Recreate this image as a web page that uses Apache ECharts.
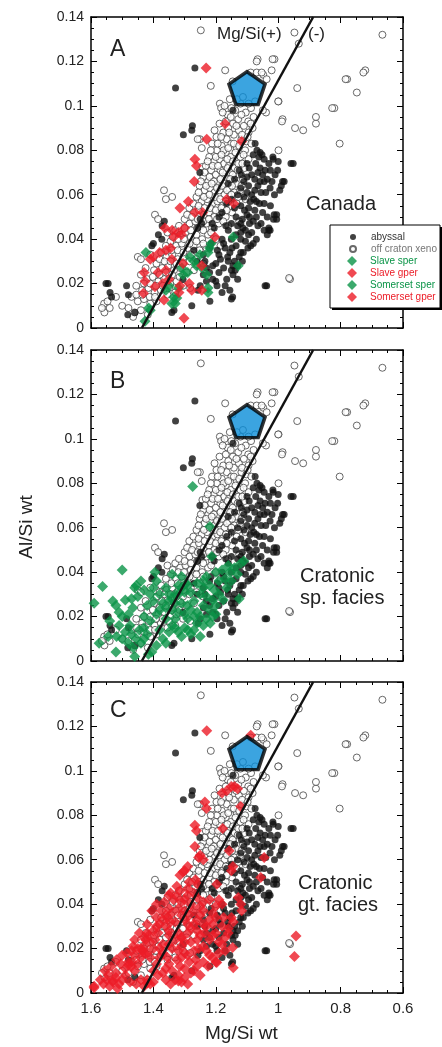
<!DOCTYPE html>
<html>
<head>
<meta charset="utf-8">
<script src="https://cdn.jsdelivr.net/npm/echarts/dist/echarts.min.js"></script>
<style>
  html, body { margin: 0; padding: 0; background: #fff; }
  #main { width: 442px; height: 1047px; }
</style>
</head>
<body>
<div id="main"></div>
<script>
// ---- data (Mg/Si wt, Al/Si wt) ----
var xTicks = [1.6, 1.4, 1.2, 1, 0.8, 0.6];
var yTicks = [0, 0.02, 0.04, 0.06, 0.08, 0.1, 0.12, 0.14];

// off craton xenoliths (open circles), same in every panel
var offCraton = [
  [1.248,0.134],[1.170,0.116],[1.216,0.109],[1.146,0.111],[0.948,0.133],[0.934,0.128],[0.666,0.132],
  [1.066,0.121],[1.012,0.121],[1.088,0.115],[1.069,0.115],[1.048,0.114],[1.021,0.116],[1.037,0.112],
  [0.779,0.112],[0.721,0.116],[0.748,0.106],[0.939,0.108],[0.999,0.102],[1.039,0.097],[0.986,0.094],
  [0.946,0.090],[0.920,0.089],[0.879,0.092],[0.879,0.095],[0.820,0.099],[0.803,0.083],[0.999,0.080],
  [0.962,0.022],[1.251,0.085],[1.243,0.0725],[1.366,0.062],[1.340,0.059],[1.360,0.058],[1.395,0.051],
  [1.385,0.049],[1.187,0.101],[1.183,0.099],[1.258,0.085],[1.245,0.081],[1.45,0.032],[1.44,0.031],
  [1.558,0.011],[1.547,0.012],[1.557,0.007],[1.540,0.009],[1.565,0.009],[1.465,0.005],[1.52,0.014],[1.50,0.010],
  [1.172,0.100],[1.155,0.103],[1.138,0.098],[1.121,0.101],[1.104,0.097],[1.087,0.099],[1.074,0.102],
  [1.162,0.096],[1.128,0.094],[1.096,0.093],[1.079,0.095],[1.145,0.092],
  [1.188,0.092],[1.176,0.088],[1.160,0.090],[1.142,0.087],[1.126,0.089],[1.110,0.091],[1.095,0.088],
  [1.082,0.090],[1.198,0.086],[1.165,0.085],[1.150,0.083],[1.118,0.085],[1.102,0.084],[1.133,0.081],
  [1.212,0.083],[1.196,0.080],[1.181,0.082],[1.168,0.079],[1.152,0.077],[1.137,0.079],[1.121,0.077],
  [1.106,0.080],[1.221,0.077],[1.205,0.075],[1.188,0.076],[1.173,0.074],[1.095,0.076],[1.158,0.073],
  [1.232,0.073],[1.215,0.071],[1.200,0.069],[1.185,0.071],[1.170,0.068],[1.155,0.070],[1.139,0.072],
  [1.124,0.069],[1.108,0.072],[1.240,0.068],[1.224,0.066],[1.192,0.065],[1.146,0.066],[1.113,0.067],
  [1.252,0.064],[1.236,0.062],[1.219,0.063],[1.204,0.061],[1.188,0.062],[1.172,0.060],[1.157,0.063],
  [1.140,0.061],[1.122,0.062],[1.262,0.059],[1.245,0.057],[1.228,0.058],[1.211,0.056],[1.195,0.057],
  [1.178,0.055],[1.160,0.057],[1.133,0.056],[1.105,0.058],
  [1.285,0.054],[1.270,0.052],[1.254,0.053],[1.238,0.051],[1.222,0.052],[1.205,0.050],[1.188,0.052],
  [1.168,0.050],[1.148,0.052],[1.300,0.049],[1.284,0.047],[1.266,0.048],[1.248,0.046],[1.230,0.047],
  [1.212,0.045],[1.190,0.047],[1.160,0.046],[1.125,0.048],
  [1.330,0.044],[1.314,0.042],[1.297,0.043],[1.280,0.041],[1.262,0.042],[1.244,0.040],[1.225,0.042],
  [1.200,0.040],[1.345,0.039],[1.327,0.037],[1.309,0.038],[1.290,0.036],[1.271,0.037],[1.252,0.035],
  [1.230,0.036],[1.185,0.037],[1.355,0.043],
  [1.375,0.034],[1.358,0.032],[1.340,0.033],[1.322,0.031],[1.303,0.032],[1.284,0.030],[1.262,0.031],
  [1.240,0.029],[1.390,0.029],[1.372,0.027],[1.353,0.028],[1.334,0.026],[1.314,0.027],[1.294,0.025],
  [1.270,0.026],[1.410,0.033],[1.425,0.027],
  [1.440,0.024],[1.420,0.022],[1.402,0.023],[1.384,0.021],[1.365,0.022],[1.346,0.020],[1.326,0.021],
  [1.305,0.019],[1.455,0.019],[1.436,0.017],[1.416,0.018],[1.396,0.016],[1.376,0.017],[1.355,0.015],
  [1.330,0.016],[1.282,0.018],
  [1.470,0.014],[1.450,0.012],[1.430,0.013],[1.410,0.011],[1.390,0.012],[1.480,0.009],[1.460,0.007],
  [1.440,0.008],[1.418,0.006],[1.069,0.120],[1.018,0.121],[1.053,0.115],[1.000,0.102],[1.049,0.098],
  [0.827,0.099],[0.784,0.112],[0.727,0.115],[0.988,0.093],[0.965,0.0225],
  [1.178,0.097],[1.150,0.099],[1.132,0.103],[1.113,0.104],[1.095,0.101],[1.168,0.093],[1.152,0.095],
  [1.118,0.096],[1.088,0.092],[1.204,0.089],[1.183,0.086],[1.157,0.088],[1.134,0.091],[1.116,0.087],
  [1.098,0.086],[1.086,0.083],[1.194,0.083],[1.175,0.080],[1.160,0.081],[1.142,0.083],[1.125,0.082],
  [1.111,0.078],[1.216,0.080],[1.200,0.077],[1.182,0.078],[1.163,0.076],[1.145,0.075],[1.128,0.074],
  [1.115,0.074],[1.226,0.075],[1.210,0.073],[1.193,0.073],[1.178,0.070],[1.162,0.072],[1.146,0.069],
  [1.130,0.071],[1.236,0.070],[1.220,0.068],[1.206,0.066],[1.185,0.067],[1.170,0.065],[1.154,0.067],
  [1.135,0.065],[1.118,0.064],[1.248,0.066],[1.231,0.064],[1.213,0.065],[1.196,0.063],[1.180,0.064],
  [1.164,0.062],[1.148,0.064],[1.128,0.059],[1.255,0.061],[1.238,0.059],[1.220,0.060],[1.202,0.059],
  [1.186,0.058],[1.168,0.057],[1.150,0.060],[1.272,0.056],[1.255,0.055],[1.236,0.054],[1.218,0.054],
  [1.200,0.053],[1.182,0.054],[1.165,0.053],[1.292,0.051],[1.276,0.050],[1.258,0.049],[1.240,0.048],
  [1.222,0.049],[1.196,0.049],[1.176,0.048],[1.318,0.046],[1.300,0.045],[1.280,0.044],[1.260,0.045],
  [1.240,0.044],[1.215,0.043],[1.338,0.041],[1.320,0.040],[1.302,0.040],[1.284,0.038],[1.262,0.039],
  [1.240,0.038],[1.360,0.037],[1.342,0.035],[1.322,0.035],[1.304,0.034],[1.280,0.033],[1.380,0.031],
  [1.364,0.030],[1.345,0.030],[1.326,0.029],[1.305,0.029],[1.398,0.026],[1.380,0.024],[1.360,0.025],
  [1.340,0.024],[1.316,0.023],[1.430,0.020],[1.410,0.020],[1.392,0.019],[1.370,0.019],[1.350,0.018],
  [1.455,0.015],[1.435,0.015],[1.412,0.014],[1.395,0.014]
];

// abyssal peridotites (black dots), same in every panel
var abyssal = [
  [1.267,0.117],[1.329,0.108],[1.304,0.087],[1.277,0.089],[1.275,0.091],[1.145,0.098],[1.251,0.070],
  [1.384,0.042],[1.372,0.046],[1.365,0.048],[1.40,0.038],[1.373,0.040],[1.405,0.037],[1.486,0.019],
  [1.482,0.006],[1.341,0.007],[1.334,0.008],[1.552,0.020],[1.545,0.020],[1.539,0.016],[1.534,0.014],
  [1.48,0.015],[1.459,0.007],[1.305,0.022],[1.257,0.017],[1.25,0.019],[1.219,0.012],[1.277,0.010],
  [1.037,0.019],[1.146,0.014],[1.150,0.013],[0.952,0.074],[0.959,0.074],[0.981,0.066],[0.986,0.066],
  [1.005,0.051],[1.005,0.049],[1.030,0.045],[1.026,0.044],[1.088,0.037],[1.112,0.034],[1.042,0.019],
  [1.074,0.083],[1.058,0.079],[1.052,0.078],[1.062,0.077],[1.080,0.078],[1.017,0.077],[1.000,0.075],
  [1.016,0.076],[1.10,0.074],[1.093,0.072],[1.125,0.071],[1.118,0.069],[1.05,0.069],[1.042,0.071],
  [1.035,0.067],[1.045,0.066],[1.010,0.069],[1.002,0.071],[0.99,0.064],[0.995,0.062],[1.04,0.061],
  [1.026,0.063],[1.085,0.060],[1.100,0.061],[1.078,0.058],[1.09,0.057],[1.10,0.051],[1.108,0.053],
  [1.092,0.050],[1.115,0.049],[1.113,0.045],[1.12,0.047],[1.105,0.044],[1.013,0.051],[1.015,0.049],
  [1.03,0.044],[1.035,0.042],[1.168,0.046],[1.16,0.044],[1.212,0.047],[1.205,0.045],[1.25,0.049],
  [1.245,0.047],[1.258,0.045],[1.155,0.034],[1.148,0.036],[1.162,0.032],[1.19,0.033],[1.185,0.031],
  [1.145,0.024],[1.138,0.026],[1.13,0.022],[1.20,0.021],[1.196,0.019],[1.17,0.019],[1.12,0.034],
  [1.125,0.032],[1.097,0.036],[1.145,0.028],[1.14,0.030],[1.07,0.050],[1.08,0.048],[1.13,0.046],
  [1.12,0.040],[1.135,0.042],[1.18,0.040],[1.175,0.038],[1.22,0.036],[1.215,0.038],[1.235,0.030],
  [1.23,0.027],[1.21,0.028],[1.26,0.030],[1.24,0.024],[1.165,0.056],[1.15,0.058],[1.14,0.054],
  [1.13,0.060],[1.12,0.063],[1.16,0.065],[1.14,0.067],[1.11,0.066],[1.18,0.052],[1.19,0.050],
  [1.065,0.064],[1.06,0.056],[1.075,0.067],[1.22,0.025],[1.21,0.022],[1.155,0.017],[1.095,0.042],[1.065,0.046],
  [1.068,0.080],[1.045,0.076],[1.072,0.074],[1.030,0.074],[1.058,0.072],[1.085,0.069],[1.065,0.070],
  [1.025,0.071],[1.100,0.068],[1.058,0.066],[1.020,0.066],[1.095,0.064],[1.075,0.062],[1.055,0.061],
  [1.012,0.060],[1.110,0.059],[1.070,0.057],[1.045,0.056],[1.025,0.055],[1.120,0.055],[1.095,0.054],
  [1.075,0.053],[1.050,0.052],[1.035,0.050],[1.135,0.050],[1.092,0.047],[1.055,0.047],[1.045,0.044],
  [1.150,0.047],[1.120,0.043],[1.085,0.043],[1.070,0.040],[1.150,0.040],[1.105,0.039],[1.080,0.038],
  [1.170,0.036],[1.135,0.037],[1.115,0.030],[1.195,0.035],[1.160,0.030],[1.130,0.028],[1.200,0.029],
  [1.175,0.027],[1.150,0.026],[1.190,0.025],[1.165,0.022],[1.230,0.021],[1.180,0.016],[1.240,0.033],[1.270,0.035]
];

// panel A: Canada
var slaveSper = [
  [1.424,0.034],[1.427,0.003],[1.41,0.008],[1.415,0.009],[1.325,0.0135],[1.341,0.011],[1.27,0.030],
  [1.262,0.028],[1.305,0.024],[1.29,0.025],[1.229,0.024],[1.22,0.036],[1.215,0.038]
];
var slaveGper = [
  [1.170,0.092],[1.229,0.085],[1.267,0.076],[1.262,0.073],[1.269,0.066],[1.288,0.057],[1.315,0.054],
  [1.267,0.052],[1.242,0.052],[1.117,0.084],[1.165,0.058],[1.142,0.056],[1.203,0.041],[1.231,0.117]
];
var somersetSper = [
  [1.251,0.033],[1.225,0.016],[1.144,0.041],[1.128,0.028],[1.225,0.034],[1.244,0.027],[1.283,0.032],
  [1.309,0.027],[1.32,0.018],[1.335,0.014],[1.33,0.011],[1.225,0.018],[1.36,0.017],[1.35,0.019]
];
var somersetGper = [
  [1.30,0.045],[1.32,0.043],[1.34,0.044],[1.31,0.042],[1.335,0.041],[1.363,0.045],[1.36,0.035],
  [1.345,0.036],[1.38,0.034],[1.40,0.032],[1.41,0.031],[1.43,0.025],[1.427,0.021],[1.36,0.026],
  [1.35,0.022],[1.37,0.020],[1.385,0.025],[1.341,0.031],[1.315,0.019],[1.305,0.029],[1.245,0.028],
  [1.432,0.0156],[1.395,0.0186],[1.366,0.0126],[1.318,0.016],[1.285,0.020],[1.277,0.017],[1.245,0.017],[1.302,0.0044]
];

// panel B: cratonic spinel facies
var cratonicSp = [
  [1.590,0.026],[1.563,0.0335],[1.50,0.041],[1.574,0.008],[1.545,0.011],[1.518,0.011],[1.52,0.025],
  [1.51,0.022],[1.53,0.027],[1.50,0.020],[1.49,0.0275],[1.466,0.024],[1.455,0.034],[1.46,0.033],
  [1.44,0.036],[1.50,0.010],[1.49,0.013],[1.48,0.008],[1.47,0.012],[1.465,0.006],[1.455,0.010],
  [1.445,0.014],[1.475,0.016],[1.43,0.015],[1.42,0.012],[1.44,0.008],[1.40,0.033],[1.39,0.036],
  [1.41,0.030],[1.38,0.023],[1.37,0.026],[1.39,0.021],[1.40,0.027],[1.36,0.019],[1.35,0.013],
  [1.37,0.010],[1.38,0.014],[1.39,0.007],[1.405,0.004],[1.416,0.003],[1.34,0.016],[1.295,0.035],
  [1.31,0.038],[1.32,0.034],[1.33,0.030],[1.34,0.028],[1.30,0.031],[1.29,0.025],[1.28,0.023],
  [1.30,0.021],[1.27,0.027],[1.32,0.022],[1.33,0.019],[1.34,0.023],[1.31,0.026],[1.27,0.014],
  [1.26,0.017],[1.28,0.012],[1.30,0.015],[1.25,0.011],[1.32,0.013],[1.26,0.022],[1.23,0.038],
  [1.24,0.036],[1.22,0.034],[1.25,0.030],[1.23,0.029],[1.24,0.025],[1.21,0.0275],[1.22,0.023],
  [1.20,0.021],[1.218,0.017],[1.23,0.019],[1.219,0.0605],[1.213,0.047],[1.2,0.040],[1.18,0.041],
  [1.16,0.043],[1.14,0.042],[1.12,0.044],[1.11,0.045],[1.165,0.033],[1.125,0.028],[1.176,0.0275],
  [1.274,0.0785],[1.155,0.040],[1.19,0.036],[1.205,0.032],
  [1.54,0.018],[1.51,0.016],[1.48,0.021],[1.47,0.028],[1.45,0.029],[1.43,0.032],[1.43,0.020],
  [1.42,0.025],[1.41,0.018],[1.46,0.002],[1.52,0.004],[1.43,0.010],[1.38,0.030],[1.36,0.033],
  [1.35,0.030],[1.36,0.024],[1.35,0.027],[1.33,0.026],[1.32,0.030],[1.31,0.033],[1.29,0.034],
  [1.28,0.031],[1.27,0.020],[1.29,0.019],[1.29,0.014],[1.31,0.011],[1.33,0.015],[1.24,0.033],
  [1.26,0.035],[1.25,0.020],[1.24,0.016],[1.21,0.020],[1.20,0.025],[1.19,0.030],[1.17,0.037],
  [1.15,0.036],[1.13,0.039],[1.36,0.008],[1.395,0.040],[1.34,0.039]
];

// panel C: cratonic garnet facies
var cratonicGt = [
  [1.229,0.118],[1.088,0.116],[1.13,0.092],[1.15,0.093],[1.165,0.091],[1.18,0.090],[1.14,0.093],
  [1.12,0.084],[1.23,0.083],[1.235,0.086],[1.267,0.0755],[1.262,0.073],[1.178,0.074],[1.267,0.066],
  [1.25,0.062],[1.24,0.060],[1.30,0.055],[1.29,0.057],[1.265,0.051],[1.258,0.049],[1.197,0.049],
  [1.157,0.064],[1.145,0.057],[1.15,0.055],[1.045,0.061],[1.056,0.052],[1.128,0.043],[1.117,0.037],
  [1.12,0.040],[1.144,0.032],[1.15,0.034],[1.146,0.0205],[1.144,0.0114],[1.197,0.0137],[0.943,0.0257],
  [0.948,0.0164],[1.255,0.061],[1.305,0.0545],[1.315,0.053],
  [1.59,0.0024],[1.59,0.003],[1.55,0.006],[1.56,0.004],[1.545,0.008],[1.518,0.015],[1.50,0.006],
  [1.51,0.004],[1.49,0.008],[1.52,0.009],[1.53,0.005],[1.47,0.012],[1.45,0.013],[1.46,0.010],
  [1.48,0.014],[1.44,0.016],[1.425,0.024],[1.43,0.021],[1.415,0.026],[1.42,0.018],[1.435,0.019],
  [1.45,0.020],[1.37,0.033],[1.36,0.035],[1.38,0.031],[1.39,0.034],[1.375,0.037],[1.325,0.0435],
  [1.335,0.042],[1.345,0.045],[1.315,0.046],[1.38,0.016],[1.39,0.013],[1.37,0.018],[1.41,0.004],
  [1.42,0.006],[1.40,0.005],[1.32,0.008],[1.33,0.006],[1.31,0.005],[1.31,0.025],[1.30,0.023],
  [1.32,0.027],[1.25,0.035],[1.26,0.033],[1.24,0.037],[1.23,0.019],[1.22,0.017],[1.24,0.021],
  [1.24,0.041],[1.22,0.042],[1.26,0.043],[1.28,0.040],[1.18,0.040],[1.19,0.042],[1.20,0.039],
  [1.39,0.030],[1.40,0.028],[1.30,0.033],[1.29,0.031],[1.31,0.035],[1.33,0.032],[1.22,0.033],
  [1.21,0.031],[1.23,0.030],[1.20,0.034],[1.16,0.027],[1.17,0.025],[1.16,0.029],[1.42,0.027],
  [1.43,0.025],[1.41,0.023],[1.31,0.025],[1.33,0.024],[1.29,0.027],[1.28,0.023],[1.35,0.026],
  [1.22,0.024],[1.21,0.026],[1.19,0.023],[1.20,0.027],[1.43,0.018],[1.44,0.020],[1.46,0.017],
  [1.30,0.018],[1.31,0.016],[1.32,0.019],[1.29,0.017],[1.27,0.019],[1.21,0.016],[1.20,0.014],
  [1.19,0.018],[1.48,0.0126],[1.49,0.011],[1.47,0.014],[1.36,0.011],[1.37,0.009],[1.35,0.013],
  [1.34,0.010],[1.27,0.010],[1.26,0.012],[1.28,0.009],[1.25,0.008],[1.53,0.0055],[1.52,0.007],
  [1.54,0.003],[1.42,0.0045],[1.43,0.003],[1.44,0.006],[1.32,0.0054],[1.30,0.007],[1.29,0.004],
  [1.35,0.038],[1.34,0.036],[1.27,0.045],[1.29,0.047],[1.30,0.042],[1.25,0.039],[1.27,0.037],
  [1.26,0.028],[1.25,0.026],[1.24,0.014],[1.36,0.030],[1.35,0.028],[1.37,0.022],[1.38,0.020],[1.34,0.020],
  [1.555,0.010],[1.535,0.012],[1.505,0.013],[1.485,0.018],[1.465,0.021],[1.475,0.005],[1.455,0.004],
  [1.46,0.024],[1.445,0.027],[1.41,0.016],[1.40,0.020],[1.395,0.024],[1.385,0.027],[1.40,0.010],
  [1.385,0.008],[1.36,0.006],[1.345,0.004],[1.355,0.016],[1.35,0.022],[1.345,0.032],[1.355,0.034],
  [1.365,0.041],[1.39,0.040],[1.32,0.038],[1.30,0.037],[1.285,0.035],[1.28,0.029],[1.27,0.031],
  [1.26,0.024],[1.255,0.020],[1.265,0.015],[1.285,0.014],[1.30,0.011],[1.315,0.012],[1.31,0.021],
  [1.325,0.015],[1.24,0.031],[1.235,0.027],[1.21,0.036],[1.18,0.030],[1.175,0.034],[1.18,0.022],
  [1.17,0.019],[1.225,0.012],[1.31,0.041],[1.29,0.044],[1.285,0.050],[1.325,0.048],[1.35,0.044],
  [1.405,0.037],[1.42,0.031],[1.50,0.017],[1.47,0.019],[1.515,0.002],[1.57,0.006]
];

// Mg/Si(+) / (-) divide line and primitive mantle
var lineX = [1.437, 0.888];
var lineY = [0, 0.14];
var pmX = [1.10];
var pmY = [0.108];

// ---- chart ----
var FONT = '"Liberation Sans", Arial, Helvetica, sans-serif';
var GREEN = '#0a9447';
var RED = '#ec1c27';
var gridTops = [17, 350, 682];
var PENTAGON = 'path://M50,0 L97.6,34.5 L79.4,90.5 L20.6,90.5 L2.4,34.5 Z';
var DIAMOND = 'path://M5,0 L10,5 L5,10 L0,5 Z';

var grids = [], xAxes = [], yAxes = [], series = [];

function axisCommon() {
  return {
    type: 'value',
    axisLine: { onZero: false, lineStyle: { color: '#000', width: 1.5 } },
    axisTick: { inside: true, length: 6, lineStyle: { color: '#000', width: 1 } },
    minorTick: { show: true, splitNumber: 4, length: 3, lineStyle: { color: '#000', width: 1 } },
    splitLine: { show: false },
    minorSplitLine: { show: false }
  };
}

gridTops.forEach(function (top, i) {
  grids.push({ left: 91, top: top, width: 312, height: 311 });
  ['bottom', 'top'].forEach(function (pos) {
    var ax = axisCommon();
    ax.gridIndex = i;
    ax.position = pos;
    ax.min = 0.6; ax.max = 1.6; ax.interval = 0.2;
    ax.inverse = true;
    ax.axisLabel = {
      show: pos === 'bottom' && i === 2,
      fontSize: 15, color: '#222', fontFamily: FONT, margin: 8,
      formatter: function (v) { return String(+v.toFixed(1)); }
    };
    xAxes.push(ax);
  });
  ['left', 'right'].forEach(function (pos) {
    var ax = axisCommon();
    ax.gridIndex = i;
    ax.position = pos;
    ax.min = 0; ax.max = 0.14; ax.interval = 0.02;
    ax.axisLabel = {
      show: pos === 'left',
      fontSize: 14, color: '#222', fontFamily: FONT, margin: 7,
      formatter: function (v) { return String(+v.toFixed(2)); }
    };
    yAxes.push(ax);
  });
});

function scatter(name, data, i, opts) {
  return Object.assign({
    name: name, type: 'scatter', data: data,
    xAxisIndex: i * 2, yAxisIndex: i * 2,
    silent: true, animation: false
  }, opts);
}

var circleStyle = { symbol: 'circle', symbolSize: 7, itemStyle: { color: '#fff', borderColor: '#444', borderWidth: 1 } };
var dotStyle = { symbol: 'circle', symbolSize: 7, itemStyle: { color: '#111' } };
function diamond(color) {
  return { symbol: 'diamond', symbolSize: 11, itemStyle: { color: color } };
}

var lineData = lineX.map(function (x, k) { return [x, lineY[k]]; });
var pmData = pmX.map(function (x, k) { return [x, pmY[k]]; });

for (var i = 0; i < 3; i++) {
  series.push(scatter('off craton xeno', offCraton, i, circleStyle));
  series.push(scatter('abyssal', abyssal, i, dotStyle));
  if (i === 0) {
    series.push(scatter('Slave sper', slaveSper, i, diamond(GREEN)));
    series.push(scatter('Somerset sper', somersetSper, i, diamond(GREEN)));
    series.push(scatter('Slave gper', slaveGper, i, diamond(RED)));
    series.push(scatter('Somerset gper', somersetGper, i, diamond(RED)));
  } else if (i === 1) {
    series.push(scatter('Cratonic sp. facies', cratonicSp, i, diamond(GREEN)));
  } else {
    series.push(scatter('Cratonic gt. facies', cratonicGt, i, diamond(RED)));
  }
  series.push({
    type: 'line', data: lineData, xAxisIndex: i * 2, yAxisIndex: i * 2,
    symbol: 'none', silent: true, animation: false,
    lineStyle: { color: '#111', width: 2.5 }
  });
  series.push(scatter('primitive mantle', pmData, i, {
    symbol: PENTAGON, symbolSize: [36, 33],
    itemStyle: { color: '#0a8dd8', borderColor: '#000', borderWidth: 3.5 }
  }));
}

function txt(left, top, text, size, extra) {
  return Object.assign({
    type: 'text', left: left, top: top, z: 30,
    style: { text: text, font: size + 'px ' + FONT, fill: '#222', lineHeight: Math.round(size * 1.1) }
  }, extra || {});
}

var graphics = [
  txt(110, 37, 'A', 23), txt(110, 369, 'B', 23), txt(110, 698, 'C', 23),
  txt(217, 25, 'Mg/Si(+)', 17), txt(308, 25, '(-)', 17),
  txt(306, 193, 'Canada', 20),
  txt(300, 565, 'Cratonic\nsp. facies', 20),
  txt(298, 872, 'Cratonic\ngt. facies', 20),
  txt(205, 1023, 'Mg/Si wt', 19),
  {
    type: 'text', x: 27, y: 527, rotation: Math.PI / 2, z: 30,
    style: { text: 'Al/Si wt', font: '19px ' + FONT, fill: '#222', align: 'center', verticalAlign: 'middle' }
  },
  // legend box with drop shadow
  { type: 'rect', z: 40, shape: { x: 332, y: 227, width: 110, height: 83 }, style: { fill: '#000' } },
  { type: 'rect', z: 41, shape: { x: 330, y: 225, width: 110, height: 83 }, style: { fill: '#fff', stroke: '#000', lineWidth: 1 } }
];

var legendText = { fontSize: 10, fontFamily: FONT, lineHeight: 12 };
var option = {
  backgroundColor: '#fff',
  animation: false,
  grid: grids,
  xAxis: xAxes,
  yAxis: yAxes,
  series: series,
  graphic: graphics,
  legend: [
    {
      orient: 'vertical', left: 349, top: 231, padding: 0, itemGap: 0,
      itemWidth: 6, itemHeight: 6, selectedMode: false, z: 50,
      textStyle: Object.assign({ padding: [0, 0, 0, 10] }, legendText),
      data: [
        { name: 'abyssal', textStyle: { color: '#333' } },
        { name: 'off craton xeno', textStyle: { color: '#777' } }
      ]
    },
    {
      orient: 'vertical', left: 347, top: 255, padding: 0, itemGap: 0,
      itemWidth: 10, itemHeight: 10, selectedMode: false, z: 50,
      textStyle: Object.assign({ padding: [0, 0, 0, 8] }, legendText),
      data: [
        { name: 'Slave sper', icon: DIAMOND, textStyle: { color: GREEN } },
        { name: 'Slave gper', icon: DIAMOND, textStyle: { color: RED } },
        { name: 'Somerset sper', icon: DIAMOND, textStyle: { color: GREEN } },
        { name: 'Somerset gper', icon: DIAMOND, textStyle: { color: RED } }
      ]
    }
  ]
};

var myChart = echarts.init(document.getElementById('main'), null, { renderer: 'canvas' });
myChart.setOption(option);
</script>
</body>
</html>
